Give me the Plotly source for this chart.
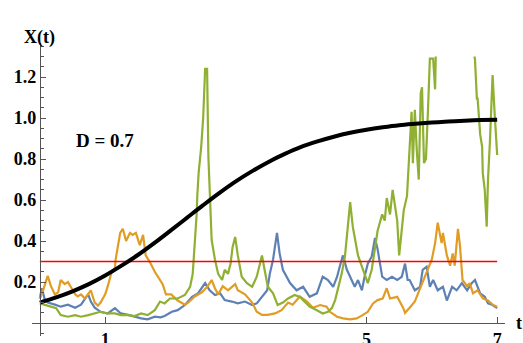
import plotly.graph_objects as go

# Three sample paths X(t) of the stochastic model
t_blue = [0.00, 0.03, 0.08, 0.12, 0.23, 0.32, 0.43, 0.54, 0.63, 0.74, 0.78, 0.84, 0.93, 1.04, 1.15,
          1.24, 1.35, 1.45, 1.55, 1.65, 1.76, 1.85, 1.91, 2.02, 2.11, 2.22, 2.33, 2.42, 2.53, 2.60,
          2.68, 2.76, 2.83, 2.94, 3.03, 3.14, 3.25, 3.32, 3.40, 3.48, 3.52, 3.57, 3.63, 3.67, 3.72,
          3.78, 3.83, 3.93, 4.03, 4.13, 4.24, 4.33, 4.41, 4.49, 4.55, 4.59, 4.64, 4.70, 4.75, 4.82,
          4.87, 4.93, 4.97, 5.02, 5.08, 5.13, 5.17, 5.24, 5.31, 5.39, 5.47, 5.54, 5.59, 5.63, 5.66,
          5.74, 5.82, 5.86, 5.92, 5.97, 6.02, 6.09, 6.17, 6.23, 6.31, 6.38, 6.46, 6.54, 6.61, 6.66,
          6.74, 6.81, 6.86, 6.93, 7.00]
x_blue = [0.12, 0.17, 0.11, 0.10, 0.09, 0.08, 0.09, 0.075, 0.09, 0.14, 0.105, 0.075, 0.055, 0.047, 0.073,
          0.047, 0.04, 0.031, 0.023, 0.018, 0.031, 0.028, 0.035, 0.055, 0.063, 0.088, 0.128, 0.145, 0.195, 0.16,
          0.137, 0.145, 0.112, 0.105, 0.096, 0.105, 0.088, 0.096, 0.128, 0.16, 0.24, 0.31, 0.44, 0.34, 0.26,
          0.226, 0.195, 0.16, 0.177, 0.128, 0.145, 0.226, 0.21, 0.177, 0.226, 0.275, 0.33, 0.26, 0.226, 0.177,
          0.21, 0.16, 0.226, 0.29, 0.325, 0.415, 0.36, 0.226, 0.21, 0.226, 0.21, 0.226, 0.29, 0.21, 0.21,
          0.16, 0.177, 0.26, 0.275, 0.177, 0.21, 0.16, 0.177, 0.11, 0.177, 0.16, 0.195, 0.16, 0.195, 0.21,
          0.145, 0.128, 0.096, 0.088, 0.073]

t_orange = [0.00, 0.05, 0.12, 0.17, 0.23, 0.28, 0.32, 0.38, 0.43, 0.47, 0.54, 0.58, 0.63, 0.69, 0.74,
            0.78, 0.84, 0.89, 0.93, 1.00, 1.04, 1.09, 1.15, 1.16, 1.23, 1.27, 1.32, 1.38, 1.42, 1.47,
            1.53, 1.58, 1.62, 1.68, 1.76, 1.84, 1.88, 1.93, 2.01, 2.11, 2.22, 2.27, 2.37, 2.48, 2.57,
            2.63, 2.68, 2.73, 2.80, 2.88, 2.99, 3.03, 3.14, 3.25, 3.32, 3.40, 3.49, 3.60, 3.70, 3.80,
            3.87, 3.98, 4.09, 4.18, 4.29, 4.39, 4.44, 4.55, 4.64, 4.75, 4.85, 4.94, 5.02, 5.10, 5.17,
            5.25, 5.31, 5.36, 5.47, 5.56, 5.59, 5.66, 5.74, 5.79, 5.85, 5.92, 6.00, 6.05, 6.09, 6.15,
            6.17, 6.23, 6.28, 6.32, 6.35, 6.40, 6.43, 6.47, 6.54, 6.58, 6.63, 6.70, 6.78, 6.86, 6.93,
            7.00]
x_orange = [0.12, 0.16, 0.23, 0.18, 0.14, 0.15, 0.21, 0.19, 0.20, 0.18, 0.14, 0.13, 0.14, 0.12, 0.14,
            0.16, 0.10, 0.085, 0.10, 0.14, 0.18, 0.24, 0.27, 0.31, 0.44, 0.46, 0.40, 0.44, 0.43, 0.44,
            0.38, 0.43, 0.33, 0.30, 0.25, 0.21, 0.19, 0.14, 0.14, 0.11, 0.09, 0.10, 0.13, 0.15, 0.18,
            0.21, 0.17, 0.14, 0.18, 0.16, 0.19, 0.16, 0.14, 0.10, 0.055, 0.04, 0.04, 0.047, 0.063, 0.10,
            0.09, 0.13, 0.105, 0.075, 0.088, 0.08, 0.055, 0.031, 0.023, 0.018, 0.023, 0.039, 0.055, 0.096, 0.112,
            0.12, 0.17, 0.12, 0.128, 0.075, 0.05, 0.075, 0.105, 0.145, 0.195, 0.245, 0.31, 0.39, 0.49, 0.39,
            0.44, 0.33, 0.28, 0.34, 0.28, 0.46, 0.38, 0.21, 0.18, 0.195, 0.145, 0.16, 0.12, 0.11, 0.09,
            0.08]

# Green leaves the plotted range around t = 6.06 .. 6.65 (gap marked with None)
t_green = [0.00, 0.08, 0.17, 0.25, 0.32, 0.43, 0.54, 0.63, 0.74, 0.84, 0.93, 1.04, 1.15, 1.24, 1.35,
           1.45, 1.55, 1.65, 1.76, 1.84, 1.91, 1.99, 2.11, 2.22, 2.30, 2.34, 2.37, 2.40, 2.41, 2.43,
           2.47, 2.50, 2.53, 2.56, 2.58, 2.60, 2.63, 2.68, 2.73, 2.79, 2.83, 2.88, 2.92, 2.95, 2.99,
           3.03, 3.09, 3.17, 3.25, 3.32, 3.40, 3.44, 3.49, 3.57, 3.64, 3.72, 3.80, 3.90, 3.98, 4.03,
           4.13, 4.24, 4.33, 4.41, 4.47, 4.52, 4.56, 4.62, 4.67, 4.70, 4.75, 4.79, 4.82, 4.87, 4.93,
           4.97, 5.02, 5.08, 5.13, 5.17, 5.24, 5.28, 5.31, 5.36, 5.40, 5.47, 5.50, 5.54, 5.57, 5.62,
           5.66, 5.69, 5.71, 5.74, 5.77, 5.80, 5.83, 5.85, 5.88, 5.91, 5.94, 5.97, 6.02, 6.05, 6.06,
           None, 6.65, 6.66, 6.69, 6.70, 6.74, 6.77, 6.78, 6.81, 6.84, 6.86, 6.89, 6.92, 6.93, 6.96,
           7.00]
x_green = [0.096, 0.088, 0.08, 0.073, 0.039, 0.031, 0.039, 0.031, 0.039, 0.047, 0.055, 0.047, 0.047, 0.039, 0.039,
           0.034, 0.047, 0.039, 0.063, 0.105, 0.096, 0.12, 0.12, 0.137, 0.177, 0.24, 0.37, 0.53, 0.62, 0.73,
           0.86, 1.00, 1.24, 1.24, 0.81, 0.62, 0.405, 0.31, 0.24, 0.21, 0.26, 0.24, 0.29, 0.37, 0.42,
           0.33, 0.226, 0.195, 0.177, 0.226, 0.33, 0.26, 0.177, 0.145, 0.088, 0.10, 0.12, 0.137, 0.128, 0.112,
           0.08, 0.063, 0.047, 0.055, 0.073, 0.112, 0.16, 0.24, 0.325, 0.44, 0.59, 0.47, 0.41, 0.33, 0.275,
           0.24, 0.195, 0.26, 0.37, 0.45, 0.53, 0.50, 0.61, 0.53, 0.65, 0.50, 0.33, 0.44, 0.55, 0.62,
           0.89, 1.03, 0.78, 1.04, 0.84, 0.70, 1.12, 1.15, 0.78, 0.80, 1.03, 1.29, 1.29, 1.14, 1.30,
           None, 1.30, 1.29, 1.09, 1.10, 0.92, 0.86, 0.73, 0.65, 0.47, 0.70, 0.89, 1.12, 1.21, 1.03,
           0.82]

# Mean trajectory and threshold level
t_mean = [0.0, 0.25, 0.5, 0.75, 1.0, 1.25, 1.5, 1.75, 2.0, 2.25, 2.5, 2.75, 3.0, 3.25, 3.5,
          3.75, 4.0, 4.25, 4.5, 4.75, 5.0, 5.25, 5.5, 5.75, 6.0, 6.25, 6.5, 6.75, 7.0]
x_mean = [0.100, 0.125, 0.155, 0.190, 0.232, 0.280, 0.332, 0.390, 0.451, 0.513, 0.575, 0.635, 0.691, 0.741, 0.786,
          0.825, 0.859, 0.886, 0.909, 0.928, 0.943, 0.955, 0.965, 0.972, 0.978, 0.983, 0.987, 0.990, 0.992]
t_level = [0.0, 7.0]
x_level = [0.3, 0.3]

x_ticks = [1, 5, 7]
y_ticks = [0.2, 0.4, 0.6, 0.8, 1.0, 1.2]
y_labels = ["0.2", "0.4", "0.6", "0.8", "1.0", "1.2"]

BLUE, ORANGE, GREEN = "#5E81B5", "#E19C24", "#8FB032"
FONT = "Liberation Serif"

fig = go.Figure()
for tt, xx, col in [(t_blue, x_blue, BLUE), (t_orange, x_orange, ORANGE), (t_green, x_green, GREEN)]:
    fig.add_trace(go.Scatter(x=tt, y=xx, mode="lines", line=dict(color=col, width=2.2),
                             connectgaps=False, hoverinfo="skip"))
fig.add_trace(go.Scatter(x=t_level, y=x_level, mode="lines", line=dict(color="#FF0000", width=1.5)))
fig.add_trace(go.Scatter(x=t_mean, y=x_mean, mode="lines", line=dict(color="black", width=4, shape="spline")))

L, R, T, B = 32, 18, 43, 7
W, H = 523, 343
xr = [-0.12, 7.12]
yr = [-0.063, 1.366]
plot_w = W - L - R
y_axis_pos = (0 - xr[0]) / (xr[1] - xr[0])
x_axis_pos = (0 - yr[0]) / (yr[1] - yr[0])

tickfont = dict(family=FONT, size=18, color="black", weight="bold")

fig.update_layout(
    width=W, height=H,
    margin=dict(l=L, r=R, t=T, b=B, autoexpand=False),
    paper_bgcolor="white", plot_bgcolor="white",
    showlegend=False,
    xaxis=dict(range=xr, showgrid=False, zeroline=False, showline=True, linecolor="#555", linewidth=1,
               anchor="free", position=x_axis_pos, automargin=False,
               tickmode="array", tickvals=x_ticks, ticktext=[str(v) for v in x_ticks],
               ticks="inside", ticklen=6, tickcolor="#555", tickfont=tickfont, ticklabelstandoff=0),
    yaxis=dict(range=yr, showgrid=False, zeroline=False, showline=True, linecolor="#555", linewidth=1,
               anchor="free", position=y_axis_pos, automargin=False,
               tickmode="array", tickvals=y_ticks, ticktext=y_labels,
               ticks="inside", ticklen=5, tickcolor="#555", tickfont=tickfont,
               minor=dict(ticks="inside", ticklen=3, tickcolor="#555", dtick=0.05, tick0=0)),
    annotations=[
        dict(text="D = 0.7", x=0.99, y=0.89, xref="x", yref="y", showarrow=False,
             font=dict(family=FONT, size=19, color="black", weight="bold")),
        dict(text="X(t)", x=0.0, y=1.0 + 18 / (H - T - B), xref="x", yref="paper", showarrow=False,
             font=dict(family=FONT, size=18, color="black", weight="bold")),
        dict(text="t", x=1.0 + (519 - (W - R)) / plot_w, y=x_axis_pos, xref="paper", yref="paper",
             showarrow=False, xanchor="center", yanchor="middle",
             font=dict(family=FONT, size=18, color="black", weight="bold")),
    ],
)

fig.write_html("out.html")
